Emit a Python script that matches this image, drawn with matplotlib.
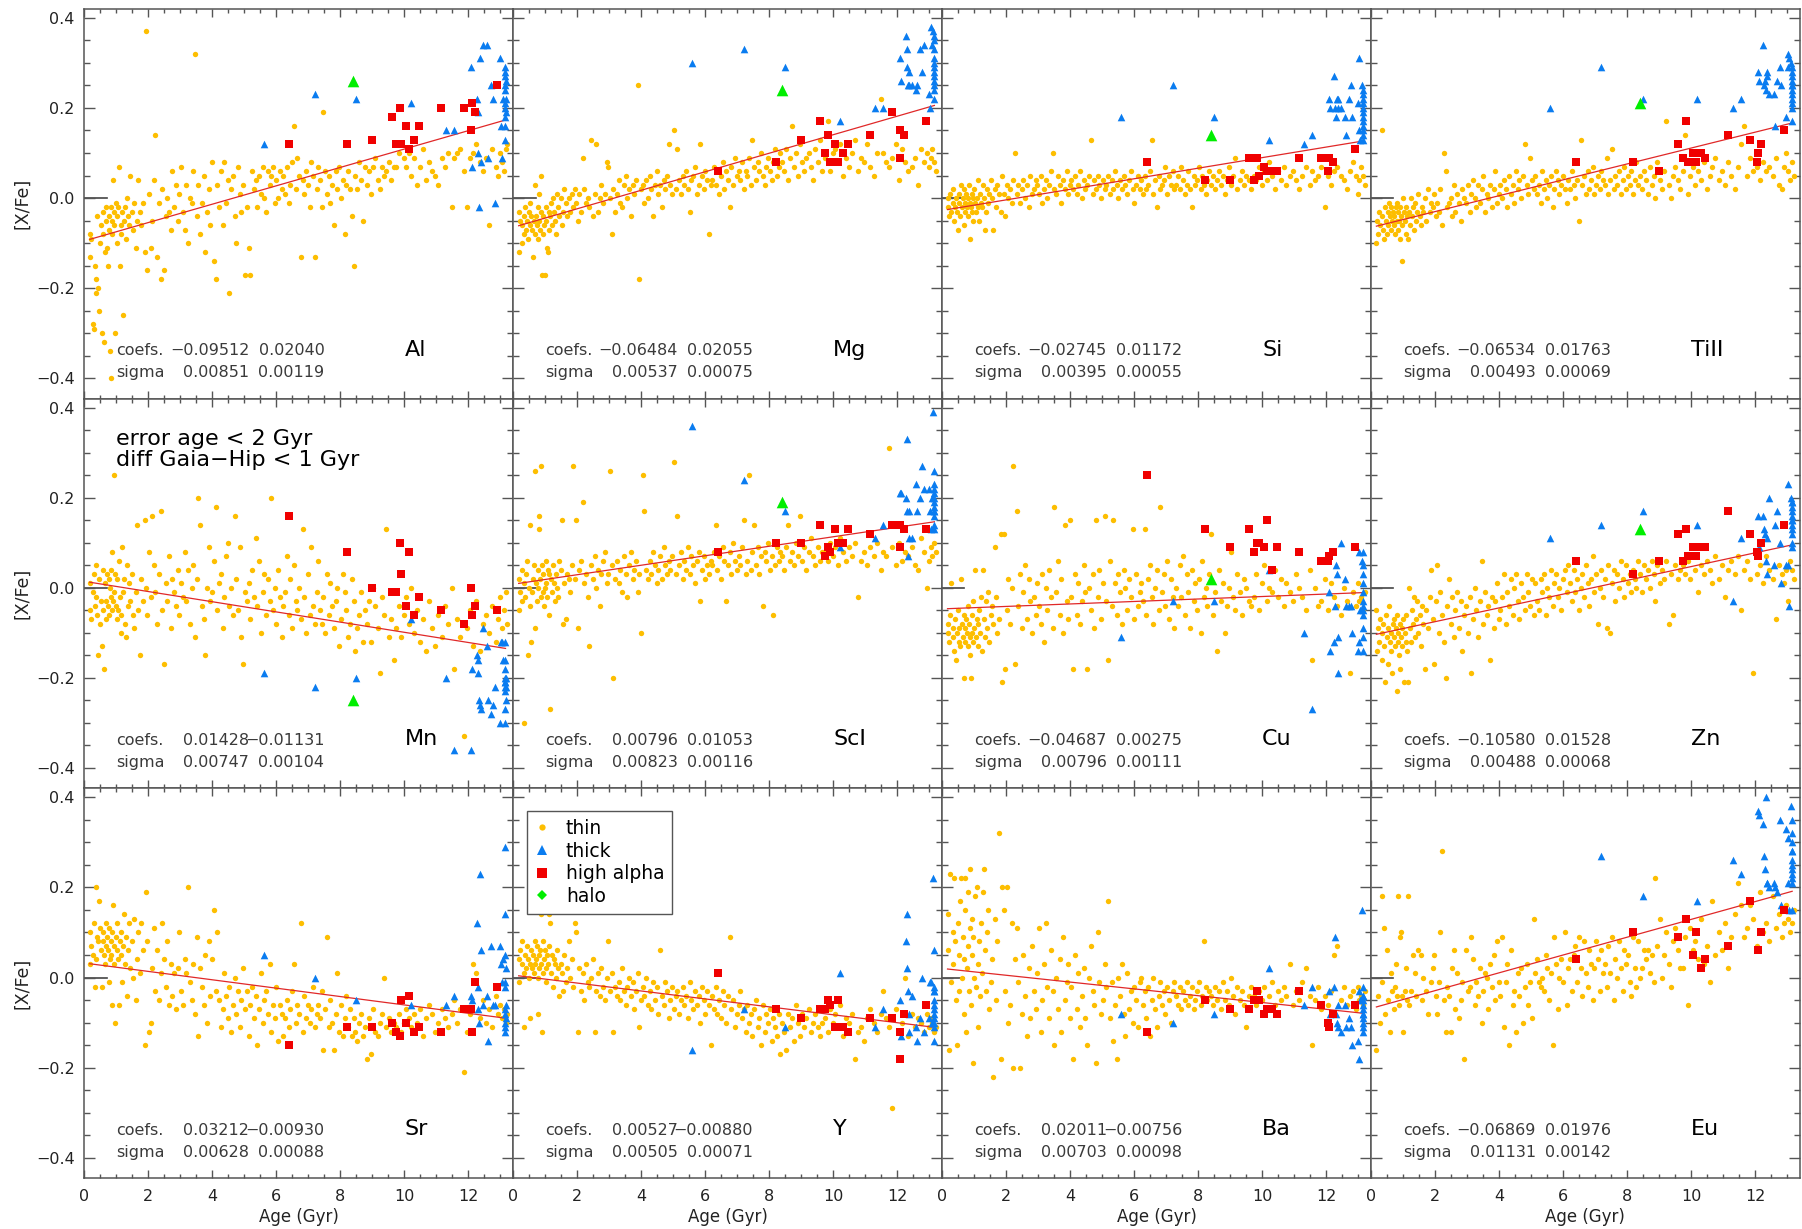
import numpy as np
import matplotlib
matplotlib.use('Agg')
import matplotlib.pyplot as plt
from matplotlib.lines import Line2D
from matplotlib.ticker import MultipleLocator, FuncFormatter

nan = np.nan

# stellar ages, in units of 0.01 Gyr
age_thin = [
    17, 19, 21, 26, 29, 33, 35, 38, 41, 44, 46, 49, 52, 54, 57, 59, 62, 64, 67, 69,
    71, 73, 76, 78, 80, 82, 84, 86, 88, 90, 92, 94, 96, 98, 101, 103, 106, 108, 111, 113,
    115, 118, 121, 124, 127, 131, 134, 137, 141, 144, 148, 152, 156, 160, 164, 169, 173, 178, 183, 188,
    193, 197, 202, 207, 212, 217, 222, 228, 233, 238, 243, 249, 254, 259, 264, 270, 275, 281, 286, 292,
    297, 302, 308, 313, 318, 324, 329, 335, 340, 346, 351, 356, 362, 367, 373, 378, 383, 389, 394, 399,
    404, 410, 415, 421, 426, 432, 437, 443, 448, 453, 459, 464, 470, 475, 481, 486, 491, 497, 502, 508,
    513, 519, 524, 530, 535, 540, 546, 551, 557, 562, 568, 573, 579, 584, 589, 595, 600, 606, 611, 617,
    622, 628, 633, 638, 644, 649, 655, 660, 666, 671, 677, 682, 687, 693, 698, 704, 709, 715, 720, 726,
    731, 737, 742, 747, 753, 758, 764, 769, 775, 780, 786, 791, 797, 802, 808, 813, 818, 824, 829, 835,
    841, 847, 853, 859, 865, 871, 877, 883, 889, 895, 902, 909, 916, 923, 930, 937, 944, 951, 958, 966,
    974, 982, 990, 998, 1006, 1014, 1022, 1031, 1040, 1049, 1058, 1067, 1076, 1086, 1096, 1106, 1116, 1126, 1137, 1148,
    1155, 1165, 1175, 1185, 1195, 1205, 1215, 1225, 1235, 1245, 1255, 1265, 1275, 1285, 1292, 1298, 1304, 1310, 1316, 1322]
age_thick = [560, 720, 850, 1020, 1130, 1155, 1208, 1212, 1226, 1229, 1231, 1233, 1236, 1238,
             1245, 1258, 1262, 1270, 1278, 1282, 1298, 1302, 1304, 1307,
             1313, 1315, 1315, 1316, 1314, 1315, 1316, 1315, 1314, 1316, 1315, 1315, 1314]
age_high = [640, 820, 900, 960, 975, 985, 990, 1005, 1015, 1030, 1045, 1115, 1185, 1207, 1210, 1220, 1290]
age_halo = [840]

elements = ['Al', 'Mg', 'Si', 'TiII', 'Mn', 'ScI', 'Cu', 'Zn', 'Sr', 'Y', 'Ba', 'Eu']
coef_a = [-0.09512, -0.06484, -0.02745, -0.06534, 0.01428, 0.00796,
          -0.04687, -0.10580, 0.03212, 0.00527, 0.02011, -0.06869]
coef_b = [0.02040, 0.02055, 0.01172, 0.01763, -0.01131, 0.01053,
          0.00275, 0.01528, -0.00930, -0.00880, -0.00756, 0.01976]
sigma_a = [0.00851, 0.00537, 0.00395, 0.00493, 0.00747, 0.00823,
           0.00796, 0.00488, 0.00628, 0.00505, 0.00703, 0.01131]
sigma_b = [0.00119, 0.00075, 0.00055, 0.00069, 0.00104, 0.00116,
           0.00111, 0.00068, 0.00088, 0.00071, 0.00098, 0.00142]

# [X/Fe] abundances, in units of 0.01 dex
thin_al = [
    -8, -13, -9, -28, -29, -15, -21, -18, -4, -20, -25, -10, -6, -30, -3, -8, -32, -12, -2, -5,
    -11, -15, -4, -7, -34, -40, -2, -5, -8, 4, -3, -6, -30, -1, -10, -4, -2, 7, -15, -6,
    -8, -3, -26, -5, -2, -9, 0, -4, -6, 5, -3, -7, -1, -11, -5, 4, -3, -6, -1, -12,
    37, -16, 1, -11, -5, 4, 14, -13, -1, -18, 2, -16, -4, 0, -3, -7, 6, -2, 3, -5,
    1, 7, -3, -7, 3, -10, 0, -1, 6, 32, -4, 3, -8, -1, 5, -12, -3, 2, -6, 8,
    -14, -18, 3, -2, 6, -6, 8, -1, 4, -21, 2, 5, -4, -10, 7, 1, -3, 3, -17, -2,
    -11, -17, 6, 2, 4, -2, 5, 1, 7, 0, -3, 6, 3, 5, 7, -1, 4, 0, 6, 2,
    5, 1, 7, -1, 3, 8, 16, 2, 9, 5, -13, 4, 1, 6, 3, -2, 8, 5, -13, 2,
    7, 4, -2, 19, 6, 1, 5, -1, 3, -6, 6, 2, 7, 0, 4, -8, 3, 6, 2, -4,
    -15, 5, 2, 8, 4, -5, 7, 3, 6, 1, 7, 9, 4, 2, 7, 5, 6, 8, 4, 7,
    7, 10, 12, 9, 7, 10, 5, 9, 3, 7, 11, 4, 8, 6, 5, 3, 9, 7, 10, -2,
    9, 10, 11, 6, -2, 9, 10, 12, 8, 6, 9, -6, 11, 7, 5, 10, 8, 6, 11, 12]
thin_mg = [
    -3, -12, -5, -10, -6, -8, -4, -2, -7, -5, -9, -3, -6, -1, -4, -7, -13, -5, 3, -8,
    -4, -6, -2, -9, -5, 1, -7, -3, 5, -17, -8, -4, -6, -17, -2, -5, -11, -12, -3, -7,
    -4, -1, -6, 0, -3, -5, -8, 1, -2, -4, 0, -6, -3, 2, -1, -4, 0, -3, 1, -2,
    2, -1, -5, 1, -3, 9, 2, -1, 0, -2, 13, -4, 1, 12, -3, 0, 3, -1, 1, 8,
    7, 0, -8, 2, -3, 1, 4, -1, -2, 3, 5, 0, 2, -4, 3, 1, 4, 25, -18, 2,
    3, -1, 4, 0, 5, 2, -4, 3, 6, 1, 3, -2, 4, 2, 5, 12, 3, 1, 15, 2,
    11, 4, 1, 5, 3, 6, 2, -3, 4, 5, 7, 1, 3, 12, 5, 2, 6, 4, -8, 3,
    4, 7, 3, 6, 1, 5, 8, 2, 6, 4, -2, 7, 3, 9, 5, 6, 4, 8, 2, 6,
    5, 9, 3, 13, 7, 4, 8, 6, 10, 5, 3, 7, 9, 6, 4, 8, 11, 5, 7, 10,
    8, 6, 11, 4, 9, 16, 7, 10, 5, 12, 8, 6, 9, 10, 7, 4, 11, 8, 13, 6,
    9, 17, 6, 10, 11, 8, 12, 5, 9, 7, 10, 13, 6, 9, 8, 12, 7, 5, 10, 22,
    10, 8, 7, 9, 12, 4, 11, 8, 6, 7, 9, 3, 11, 8, 10, 7, 9, 11, 8, 6]
thin_si = [
    0, -2, -4, 1, -3, -1, 2, -5, -2, 0, -3, -7, 1, -1, -4, 3, -2, 0, -6, 2,
    -1, -3, 1, -2, -4, 0, 3, -1, -9, -2, 1, -3, 0, -5, 2, -1, -3, 0, 4, -2,
    -5, 1, -1, -2, 3, 0, -7, -3, 2, -1, 1, 4, 0, -7, 2, -2, 3, 1, -3, 5,
    1, -4, 3, 0, 2, -1, 4, 10, 1, 3, -1, 2, 4, 0, 3, -2, 5, 1, 2, 4,
    3, 1, 5, -1, 2, 4, 0, 3, 6, 10, 2, 1, 5, 3, -1, 4, 2, 6, 1, 3,
    4, 2, 5, 1, 3, 6, 0, 4, 2, 3, 5, 13, 1, 4, 2, 5, 3, 0, 4, 2,
    3, 5, 1, 4, 2, 6, 3, 0, 4, 2, 5, 3, 1, 4, 6, 2, -1, 3, 5, 2,
    4, 1, 5, 2, 3, 6, 13, 1, 4, -2, 5, 2, 3, 4, 7, 1, 5, 3, 6, 2,
    3, 5, 2, 7, 4, 1, 3, 6, 2, -2, 5, 3, 4, 7, 2, 5, 3, 1, 4, 6,
    3, 5, 2, 4, 6, 3, 5, 1, 4, 7, 3, 5, 9, 2, 4, 6, 3, 5, 4, 2,
    5, 4, 7, 3, 6, 4, 8, 5, 2, 6, 4, 7, 3, 5, 6, 4, 2, 5, 7, 3,
    6, 4, 5, 7, -2, 5, 3, 6, 7, 5, 4, 2, 6, 8, 5, 1, 4, 7, 5, 3]
thin_ti = [
    -10, -5, -8, -3, -6, 15, -4, -7, -9, -2, -5, -8, -3, -6, -1, -4, -7, -2, -5, -3,
    -6, -4, -8, -2, -5, -1, -7, -3, -5, -9, -2, -4, -6, -14, 0, -3, -5, -8, -2, -4,
    -9, -3, -6, 0, -4, -2, -7, -1, -5, -3, 1, -4, -6, -2, -3, 0, -5, 2, -3, -1,
    -2, 1, -4, -1, -3, 2, -6, 10, 6, -2, -1, 0, -4, 3, -3, 1, -1, -5, 2, 0,
    -1, 3, -3, 1, 4, 0, -2, 3, -1, 2, 5, -3, 1, 0, 3, -2, 2, 6, -1, 1,
    3, 0, 4, 2, -2, 5, 1, 3, -1, 6, 2, 4, 0, 5, 12, 3, 1, 9, 4, 2,
    5, 1, 3, -1, 6, 2, 4, 0, 3, 5, -2, 2, 6, 4, 1, 3, 5, 2, -1, 4,
    2, 6, 3, 0, 4, -5, 13, 3, 5, 1, 6, 2, 4, 7, 1, 3, 5, 2, 6, 4,
    3, 9, 1, 4, 11, 2, 5, 3, 6, 1, 4, 7, 2, 5, 3, 6, 1, 4, 8, 3,
    5, 2, 6, 4, 1, 7, 3, 5, 0, 8, 4, 2, 6, 17, 3, 0, 5, 7, 4, 2,
    6, 14, 1, 5, 7, 3, 6, 4, 8, 2, 5, 7, 9, 4, 6, 3, 8, 5, 2, 7,
    12, 16, 5, 9, 6, 7, 4, 8, 6, 7, 5, 9, 3, 2, 7, 10, 6, 4, 8, 5]
thin_mn = [
    1, -5, -7, -1, 3, -4, 5, -2, -6, -15, 2, -8, -3, -13, 4, -5, -18, 1, -3, -7,
    3, -4, 2, -6, 0, -2, 4, -5, 8, -3, 25, -1, 3, -4, -7, 2, -5, 6, -2, -10,
    -6, 9, -1, 2, -8, -11, 5, -4, 1, -3, 3, -6, -9, -1, 14, -5, -15, 2, -3, 15,
    0, -6, 8, -2, 16, 5, -1, -8, 3, 17, -5, -17, 1, -3, 7, -9, 2, -1, -4, 4,
    -6, 1, -2, 8, -3, 4, -8, 0, 5, -11, 2, 20, 14, -4, -7, -15, 0, 9, -3, -1,
    6, 18, -5, 1, 3, -9, -2, 7, 10, -4, 0, -6, 16, 2, -5, 9, -11, -17, -1, -3,
    1, -7, 4, -2, 11, -4, 6, -10, -1, 3, -6, 2, -3, 20, -5, 0, -8, 4, -2, -11,
    -4, -1, 7, -6, 2, -9, 5, -3, -5, 0, -7, 13, -2, -10, 3, -6, 9, -4, -8, -1,
    6, -5, -8, -2, -10, 3, -6, 1, -4, -9, -3, 0, -13, -7, 3, -1, -5, -11, -8, 2,
    -3, -14, -9, -6, -1, -12, -5, -8, -3, -12, 0, -4, -9, -19, -2, -6, 13, -11, -7, -16,
    -9, -4, -11, -6, -2, -8, 0, -10, -5, -12, -7, -14, -3, -9, -13, -6, -11, -4, -8, 0,
    -18, -7, -11, -33, -9, -5, -13, -3, -14, -8, -6, -10, -4, -12, -7, -2, -9, -5, -1, -8]
thin_sc = [
    2, -5, -1, 4, -3, 1, -30, -2, 3, 6, -15, 0, -4, 14, -12, -1, 2, 5, -9, 26,
    1, -3, 4, 0, 16, 13, 2, -2, 27, 5, -1, 3, -4, 0, 1, 6, -2, 4, -6, 3,
    -27, 2, -1, 5, 1, -3, 3, 0, -2, 6, 4, 15, -8, 1, -7, 3, 2, -1, 5, 27,
    2, 15, -9, 4, 6, 19, 1, 3, -2, -13, 5, 2, 7, 0, 4, -4, 3, 6, 8, 1,
    3, 26, 5, -20, 2, 6, 1, 4, -1, 7, 3, -2, 5, 8, 2, 4, 6, -1, 3, -10,
    25, 17, 4, 2, 6, 3, 8, 5, 1, 4, 7, 2, 9, 5, 3, 6, 4, 7, 28, 3,
    16, 5, 8, 2, 6, 4, 9, 3, 7, 5, 1, 6, 8, -3, 4, 7, 2, 5, 3, 6,
    5, 8, 14, 4, 7, 2, 9, 6, -3, 5, 8, 3, 10, 6, 4, 7, 5, 9, 15, 3,
    6, 25, 4, 8, 14, 5, 9, 3, 7, -4, 8, 6, 10, 4, 7, -6, 5, 9, 6, 8,
    7, 4, 9, 14, 6, 8, 5, 10, 7, 16, 6, 9, 4, 8, 11, 7, 5, 9, 6, 8,
    8, 6, 10, 7, 9, 5, 11, 8, 6, 9, 7, 10, -2, 6, 8, 5, 9, 7, 10, 4,
    8, 7, 31, 9, 5, 10, 6, 8, 7, 9, 5, 4, 11, 8, 0, 6, 9, 7, 10, 8]
thin_cu = [
    -8, -10, -12, -6, 1, -9, -11, -14, -7, -16, -10, -5, -12, -9, -13, 2, -8, -11, -6, -20,
    -9, -12, -7, -10, -4, -13, -8, -11, -15, -20, -6, -10, -12, -3, -9, 4, -11, -7, -13, -8,
    -5, -10, -2, -14, 4, -7, -11, -3, -9, -1, -12, -6, -4, -8, 9, -2, -10, -7, 12, -21,
    12, -18, -5, 2, -8, 0, 27, -17, 17, -4, 3, -9, -1, 5, -7, 2, -3, -10, -2, -6,
    1, -4, -8, 3, -12, 0, -5, 4, -2, -9, 18, -1, 6, -6, 2, -10, 14, -3, -7, 15,
    -2, -18, 3, -6, 1, -8, -3, 5, -1, -18, 0, -5, 3, -9, 15, -2, 4, -7, 1, 16,
    -3, -16, 6, -4, 15, 1, -6, 3, -1, -8, 4, 0, -5, 2, -2, 13, -7, 3, -4, -1,
    1, -3, 13, -6, 2, 5, -2, -8, 0, 4, -5, 18, -1, 3, -4, 6, -7, 2, -2, -9,
    0, -4, 5, -2, 7, -6, 3, -1, -9, 4, -3, 1, -5, 2, -10, 6, -2, 0, -4, 3,
    12, -6, -1, -14, 4, -3, 1, -10, -4, 0, 8, -2, -5, 3, -1, -6, 2, 0, -3, -4,
    -2, 3, -5, 1, 5, -3, 0, -1, 4, -2, 2, -4, 1, -1, -3, 3, 0, -2, -5, 4,
    -16, 0, -4, -3, 2, -5, 1, -2, -4, -6, 0, -3, -19, -1, -4, 1, -3, -2, -5, -1]
thin_zn = [
    -5, -14, -9, -12, -7, -16, -10, -8, -13, -21, -6, -11, -9, -17, -4, -12, -10, -14, -19, -8,
    -11, -7, -13, -9, -23, -6, -12, -10, -15, -8, -18, -11, -9, -13, -7, -21, -10, -12, -6, -14,
    -21, 0, -9, -12, -5, -8, -2, -11, -7, -3, -10, -6, -13, -4, -8, -18, -5, -9, -2, 4,
    -7, -17, -3, 5, -10, -1, -6, -12, -20, -4, 2, -8, -2, -11, -5, -1, -9, -3, -14, -6,
    -4, -10, -2, -19, -7, 0, -5, -11, -3, 6, -8, -1, -6, -4, -16, -2, -9, -3, 1, -7,
    -5, -2, 3, -8, -1, -4, 2, -6, 0, 3, -3, -7, 1, -2, -5, 3, -1, -4, 2, -6,
    1, -3, -5, 2, -1, 3, -6, 0, -2, 4, -4, 1, 3, -2, 0, -5, 2, 4, -1, 5,
    1, -3, 4, -1, 2, -5, 0, 3, -2, 5, 1, -4, 2, 7, -1, 3, -8, 0, 4, -2,
    2, -9, 5, -10, 1, 4, -3, 3, 0, 6, 2, -2, 5, 1, 3, -1, 4, 2, 0, 6,
    3, -1, 5, 2, 4, 0, 6, 3, -3, 5, 1, 4, 2, 6, -8, 3, -6, 5, 2, 4,
    5, 3, 6, 2, 7, 4, -1, 5, 3, 6, 4, 1, 7, 2, 5, -2, 4, 6, 3, 7,
    -5, 4, 6, 2, -19, 3, 5, 1, 7, 4, 2, -7, 5, 3, 1, 4, -3, 6, 4, 2]
thin_sr = [
    3, 10, 7, 5, 12, -2, 20, 4, 9, 8, 17, 11, 6, -2, 8, 10, 5, 3, 12, 7,
    9, 6, -1, 11, 4, 8, 5, 10, -6, 16, 7, 3, -10, 9, 6, 12, 4, -6, 8, 10,
    5, -1, 7, 14, 3, 9, -4, 6, 12, 2, 8, 0, 13, -5, 4, 10, 1, 12, 6, -15,
    19, 8, -12, -10, 2, 11, -3, 6, -5, 1, 12, 4, -2, 8, -6, 3, -4, 1, -7, 2,
    10, -3, -6, 4, 1, 20, -1, -5, 3, -8, 9, -13, 2, -2, -6, 5, -10, 8, -4, 4,
    15, -3, 10, -5, -11, -7, 1, -4, -9, -2, -12, -6, 0, -8, -3, -11, -5, 2, -7, -3,
    -13, -6, -2, -9, -4, -15, -7, 1, -10, -5, -3, -8, 3, -12, -6, -9, -2, -14, -6, -8,
    -13, -9, -5, -11, -7, -3, 3, -10, -6, -8, 12, -12, -4, -9, -6, -10, -7, -2, -11, -8,
    -6, -9, -3, -16, -7, 9, -11, -5, -10, -16, -8, 1, -12, -6, -13, -9, -4, -11, -7, -13,
    -9, -12, -14, -10, -8, -13, -11, -18, -9, -17, -7, -12, -13, -10, -8, 0, -11, -9, -12, -10,
    -11, -8, -12, -10, -7, -9, -11, -8, -10, -7, -13, -9, -6, -8, -12, -10, -7, -9, -11, -8,
    -5, -10, -7, -21, -12, -8, 3, 1, -9, -5, -10, -7, -11, -4, -8, -6, -9, -7, -10, -8]
thin_y = [
    4, -1, 6, 3, 8, 1, -11, 5, 2, 7, 4, 0, 3, -9, 6, 2, 5, 1, 8, 3,
    4, 7, 0, -8, 5, 2, 6, 14, 3, -12, 8, 1, 4, 6, 2, -1, 5, 3, 14, 7,
    12, 1, 5, -2, 4, 3, 0, 6, 2, -4, 3, 1, -3, 5, -1, 2, 8, 0, 4, -2,
    12, 10, -12, 2, -3, 1, -5, 3, -1, -2, 0, 4, -12, -3, 1, -4, 2, -2, -5, 0,
    8, -3, 1, -12, -2, -4, -1, -5, 2, -3, -6, -2, 0, -4, -1, -7, -3, 1, -11, -5,
    -2, -4, 0, -6, -3, -7, -1, -5, -2, -8, 6, -4, -6, -1, -3, -9, -5, -2, -7, -4,
    -3, -8, -5, -2, -6, -4, -9, -1, -5, -7, -3, -6, -4, -10, -2, -5, -8, -3, -6, -15,
    -4, -7, -2, -8, -5, -9, -3, -6, -10, -4, 9, -7, -5, -11, -8, -6, -3, -9, -7, -12,
    -6, -10, -8, -13, -7, -5, -11, -9, -15, -6, -12, -8, -10, -7, -14, -9, -11, -13, -8, -17,
    -10, -12, -16, -8, -11, -9, -14, -6, -10, -13, -8, -11, -9, -7, -12, -10, -8, -11, -13, -10,
    -9, -12, -7, -10, -8, -11, -6, -13, -9, -10, -8, -18, -12, -11, -14, -9, -7, -10, -12, -8,
    -3, -9, -11, -29, -7, -12, -10, 0, -13, -8, -11, -9, -10, -12, -8, -11, -9, -10, -12, -11]
thin_ba = [
    6, 14, -16, 23, -1, 10, 3, 22, 8, -5, -15, 12, 5, -3, 17, 22, 0, 9, -8, 4,
    15, 22, -12, 2, 19, 7, -3, 11, 24, -6, 13, 5, -19, 9, 0, 18, -2, 20, 3, -11,
    8, -4, 12, 1, 19, 24, 6, -3, 10, 15, -7, -1, 4, -22, 13, -5, 8, 32, -18, 20,
    15, -3, 20, -10, -6, 12, -20, 4, 11, -1, -20, -8, 5, -4, -13, 2, -9, 7, -3, -7,
    1, 11, -12, -5, 3, 12, -2, -9, 6, -3, -15, 0, -7, 4, -12, 9, -5, -1, 3, -9,
    -2, -18, 5, -7, 1, -11, -4, 2, -9, -15, 0, 7, -3, -6, -19, 10, -1, -8, -5, 3,
    -2, 17, -9, -1, -14, -6, -18, 0, -4, 3, -8, -13, 1, -7, -3, -10, -2, -5, -11, -1,
    0, -6, -3, -9, -2, -13, -5, 0, -7, -11, -4, -1, -6, -3, -8, -2, -5, -10, -3, -1,
    -4, -6, -2, -7, -3, -5, -1, -6, -4, -2, -7, -5, -3, -1, -6, -4, 8, -2, -5, -3,
    -4, -6, -2, -5, -3, -7, -1, -5, -3, -6, 0, -4, -8, -2, -5, -3, -6, -11, -4, -2,
    -4, -6, -3, -5, -2, -7, -4, -1, -6, -3, -5, -2, -4, 3, -6, -3, -5, -1, 2, -4,
    -15, -5, -2, -7, -4, -6, -3, 5, 7, -5, -2, -6, -4, -3, -7, -2, -5, -4, -6, -3]
thin_eu = [
    -16, nan, -4, nan, -10, -1, 18, nan, 11, -8, nan, 6, nan, -5, nan, -12, 1, nan, -3, nan,
    -7, nan, -2, 3, nan, -4, nan, 18, -6, 9, nan, 10, -4, nan, -12, nan, -3, 2, nan, -5,
    18, -6, nan, -3, nan, 5, nan, 1, -4, nan, 6, nan, 5, -5, 0, nan, -3, -8, nan, -1,
    2, 5, -4, -8, -1, 10, 28, -5, -12, -2, -4, -12, 2, 6, -7, 1, -9, -5, -1, -18,
    6, -3, -2, 9, 4, -6, -1, -4, 2, -10, -3, 1, 0, -7, 3, -2, 5, -5, 8, -1,
    -4, 9, -11, -1, 3, -15, 6, -6, -3, -12, 1, -4, 2, -10, -2, 3, -6, -1, -9, 13,
    1, 4, -1, -2, 0, -3, 5, 2, -5, 1, -15, 9, 3, -7, 0, 4, -1, 10, -6, 2,
    4, -3, 5, 7, -1, 9, 2, -4, 8, 1, -2, 6, 3, -5, 2, 8, 4, -3, 6, 1,
    3, -2, 7, 1, 9, -5, 4, 0, 8, 2, -3, 6, 3, 5, -1, -4, 9, 2, -2, 8,
    0, 2, 6, 4, 6, 1, 5, -1, 22, 7, 13, 0, 5, 10, 3, -2, 8, 11, 6, 2,
    2, 9, -6, 11, 6, 8, 4, 13, 3, 7, -1, 17, 5, 10, 6, 12, 2, 9, 14, 21,
    16, 9, 11, 16, 13, 7, 19, 10, 12, 8, 18, 11, 14, 9, 12, 16, 13, 10, 12, 15]

thick_al = [12, 23, 22, 21, 15, 15, 29, 7, 22, 19, 10, -2, 31, 8, 34, 34, 9, 25, 22, -1, 31, 16, 9, 22,
            29, 28, 27, 26, 25, 24, 22, 21, 20, 19, 18, 16, 13]
thick_mg = [30, 33, 29, 17, 20, 20, 31, 26, 36, 33, 29, 25, 28, 25, 25, 24, 25, 33, 28, 34, 23, 20, 38, 34,
            37, 36, 35, 33, 31, 30, 29, 28, 27, 26, 25, 24, 22]
thick_si = [18, 25, 18, 13, 12, 14, 22, 20, 27, 20, 18, 22, 22, 20, 20, 18, 14, 22, 25, 18, 21, 15, 31, 13,
            25, 24, 23, 22, 21, 20, 19, 18, 17, 16, 15, 14, 13]
thick_ti = [20, 29, 22, 22, 20, 22, 28, 26, 34, 25, 26, 24, 27, 28, 23, 23, 16, 26, 29, 25, 18, 29, 32, 31,
            30, 29, 28, 27, 26, 25, 25, 24, 23, 22, 21, 20, 17]
thick_mn = [-19, -22, -20, -7, -20, -36, -36, -18, -15, -16, -19, -25, -26, -27, -9, -13, -25, -28, -26, -22,
            -30, -12, -12, -16, -16, -18, -20, -20, -21, -21, -22, -22, -23, -25, -27, -30, -12]
thick_sc = [36, 24, 17, 9, 11, 14, 21, 21, 20, 33, 17, 7, 17, 11, 11, 23, 17, 20, 27, 22, 22, 17, 13, 20,
            39, 26, 23, 22, 21, 20, 19, 18, 17, 17, 16, 14, 13]
thick_cu = [-11, -3, -3, 4, -10, -27, -1, -14, -12, -4, 5, 3, -19, -11, 10, 2, -4, -4, -4, -10, -14, -12, 8, -5,
            6, 5, 3, 1, -1, -3, -4, -5, -6, -9, -11, -14, 8]
thick_zn = [11, 14, 17, 14, -3, 11, 16, 9, 16, 13, 12, 6, 3, 11, 20, 5, 14, 17, 10, 1, 5, 5, 23, -4,
            20, 19, 19, 18, 17, 16, 15, 14, 13, 12, 10, 9, 15]
thick_sr = [5, 0, -5, -6, -6, -4, -4, -5, 12, -2, -7, -10, 23, 6, -6, -4, -14, 7, -6, -6, 7, 3, -1, 4,
            29, 14, 5, 2, -1, -2, -6, -7, -8, -9, -10, -11, -12]
thick_y = [-16, -7, -11, 1, -11, -7, -5, -13, 8, 14, 2, -3, -8, -12, -4, -11, -14, -9, 0, -12, -9, -1, -1, -10,
           22, 6, -2, -3, -5, -6, -7, -8, -9, -10, -11, -14, -3]
thick_ba = [-8, -10, -8, 2, -6, -2, -3, -8, -2, 9, -8, -10, -11, -6, -12, -6, -11, -9, -11, -15, -14, -18, -3, -5,
            15, -2, -4, -5, -7, -8, -9, -10, -11, -12, -8, -6, -4]
thick_eu = [nan, 27, 18, 17, 26, 23, 37, 36, 34, 27, 24, 40, 21, 21, 20, 21, 20, 19, 35, 16, 33, 31, 21, 15,
            38, 35, 32, 30, 28, 26, 25, 24, 23, 22, 21, 15, 28]

high_al = [12, 12, 13, 18, 12, 20, 12, 16, 11, 13, 16, 20, 20, 15, 21, 19, 25]
high_mg = [6, 8, 13, 17, 10, 14, 8, 12, 8, 10, 12, 14, 19, 9, 15, 14, 17]
high_si = [8, 4, 4, 9, 4, 9, 5, 7, 6, 6, 6, 9, 9, 6, 9, 8, 11]
high_ti = [8, 8, 6, 12, 9, 17, 8, 10, 8, 10, 9, 14, 13, 8, 10, 12, 15]
high_mn = [16, 8, 0, -1, -1, 10, 3, -4, 8, -6, -2, -5, -8, 0, -6, -4, -5]
high_sc = [8, 10, 10, 14, 7, 9, 8, 13, 10, 10, 13, 12, 14, 9, 14, 13, 13]
high_cu = [25, 13, 9, 13, 8, 10, 10, 9, 15, 4, 9, 8, 6, 6, 7, 8, 9]
high_zn = [6, 3, 6, 12, 6, 13, 7, 9, 7, 9, 9, 17, 12, 8, 7, 10, 14]
high_sr = [-15, -11, -11, -10, -12, -13, -5, -10, -4, -12, -11, -12, -7, -7, -12, -1, -2]
high_y = [1, -7, -9, -7, -7, -5, -6, -11, -5, -11, -12, -9, -9, -12, -18, -8, -6]
high_ba = [-12, -5, -7, -7, -5, -3, -5, -8, -7, -7, -8, -3, -6, -10, -11, -8, -6]
high_eu = [4, 10, nan, 9, nan, 13, nan, 5, 10, 2, 4, 7, 17, nan, 6, 10, 15]

halo_vals = [26, 24, 14, 21, -25, 19, 2, 13, nan, nan, nan, nan]

thin_all = [thin_al, thin_mg, thin_si, thin_ti, thin_mn, thin_sc,
            thin_cu, thin_zn, thin_sr, thin_y, thin_ba, thin_eu]
thick_all = [thick_al, thick_mg, thick_si, thick_ti, thick_mn, thick_sc,
             thick_cu, thick_zn, thick_sr, thick_y, thick_ba, thick_eu]
high_all = [high_al, high_mg, high_si, high_ti, high_mn, high_sc,
            high_cu, high_zn, high_sr, high_y, high_ba, high_eu]

c_thin = '#FDBE00'
c_thick = '#0A7CF0'
c_high = '#F00000'
c_halo = '#00EE00'
c_axis = '#555555'
c_text = '#3a3a3a'

plt.rcParams['font.family'] = ['DejaVu Sans']
plt.rcParams['axes.unicode_minus'] = True

fig = plt.figure(figsize=(18.02, 12.29), dpi=100)

x_thin = np.array(age_thin) / 100.0
x_thick = np.array(age_thick) / 100.0
x_high = np.array(age_high) / 100.0
x_halo = np.array(age_halo) / 100.0
x_fit = np.array([x_thin.min(), x_thick.max()])

left, bottom = 0.0468, 0.0415
w, h = 0.2380, 0.3171


def fmt_num(v):
    return f'{v:.5f}'.replace('-', '\u2212')


def fmt_tick(v, _):
    v = round(v, 2)
    if v == 0:
        v = 0.0
    return f'{v:.1f}'.replace('-', '\u2212')


for i, name in enumerate(elements):
    row, col = divmod(i, 4)
    ax = fig.add_axes([left + col * w, bottom + (2 - row) * h, w, h])

    ax.scatter(x_thin, np.array(thin_all[i], dtype=float) / 100, s=15,
               marker='o', color=c_thin, linewidths=0, zorder=2)
    ax.plot(x_fit, coef_a[i] + coef_b[i] * x_fit, color='#E02828', lw=0.9, zorder=3)
    ax.scatter(x_thick, np.array(thick_all[i], dtype=float) / 100, s=30,
               marker='^', color=c_thick, linewidths=0, zorder=4)
    ax.scatter(x_high, np.array(high_all[i], dtype=float) / 100, s=34,
               marker='s', color=c_high, linewidths=0, zorder=5)
    ax.scatter(x_halo, [halo_vals[i] / 100], s=70,
               marker='^', color=c_halo, linewidths=0, zorder=6)
    ax.axhline(0, xmin=0, xmax=0.052, color='#444444', lw=1.2, zorder=1)

    ax.set_xlim(0, 13.4)
    ax.set_ylim(-0.445, 0.42)
    ax.xaxis.set_major_locator(MultipleLocator(2))
    ax.xaxis.set_minor_locator(MultipleLocator(0.5))
    ax.yaxis.set_major_locator(MultipleLocator(0.2))
    ax.yaxis.set_minor_locator(MultipleLocator(0.05))
    ax.yaxis.set_major_formatter(FuncFormatter(fmt_tick))
    ax.tick_params(axis='both', which='both', direction='in', top=True, right=True,
                   color=c_axis, width=1.0, labelsize=11.5, labelcolor='#222222')
    ax.tick_params(axis='x', which='major', length=6, pad=8)
    ax.tick_params(axis='x', which='minor', length=3)
    ax.tick_params(axis='y', which='major', length=8, pad=7)
    ax.tick_params(axis='y', which='minor', length=4)
    ax.tick_params(labelleft=(col == 0), labelbottom=(row == 2))
    for sp in ax.spines.values():
        sp.set_color(c_axis)
        sp.set_linewidth(1.1)

    if col == 0:
        ax.text(-0.145, 0.5, '[X/Fe]', transform=ax.transAxes, rotation=90,
                ha='center', va='center', fontsize=12.5, color='#222222')
    if row == 2:
        ax.text(0.5, -0.1, 'Age (Gyr)', transform=ax.transAxes,
                ha='center', va='center', fontsize=12, color='#222222')

    # fit coefficients and their errors
    ax.text(1.0, -0.339, 'coefs.', fontsize=11.5, color=c_text, va='center')
    ax.text(5.15, -0.339, fmt_num(coef_a[i]), fontsize=11.5, color=c_text, va='center', ha='right')
    ax.text(7.5, -0.339, fmt_num(coef_b[i]), fontsize=11.5, color=c_text, va='center', ha='right')
    ax.text(1.0, -0.388, 'sigma', fontsize=11.5, color=c_text, va='center')
    ax.text(5.15, -0.388, fmt_num(sigma_a[i]), fontsize=11.5, color=c_text, va='center', ha='right')
    ax.text(7.5, -0.388, fmt_num(sigma_b[i]), fontsize=11.5, color=c_text, va='center', ha='right')
    ax.text(10.0, -0.35, name, fontsize=16, color='black', va='baseline', ha='left')

    if name == 'Mn':
        ax.text(1.0, 0.331, 'error age < 2 Gyr', fontsize=16, va='center')
        ax.text(1.0, 0.284, 'diff Gaia\u2212Hip < 1 Gyr', fontsize=16, va='center')

    if name == 'Y':
        handles = [
            Line2D([], [], ls='', marker='o', ms=4.5, color=c_thin, mew=0),
            Line2D([], [], ls='', marker='^', ms=6.5, color=c_thick, mew=0),
            Line2D([], [], ls='', marker='s', ms=6.5, color=c_high, mew=0),
            Line2D([], [], ls='', marker='D', ms=5.5, color=c_halo, mew=0),
        ]
        leg = ax.legend(handles, ['thin', 'thick', 'high alpha', 'halo'],
                        loc='upper left', bbox_to_anchor=(0.031, 0.941),
                        borderaxespad=0, fontsize=13.5, frameon=True, fancybox=False,
                        edgecolor=c_axis, framealpha=1, handlelength=0.8,
                        handletextpad=0.9, labelspacing=0.2, borderpad=0.4)
        leg.get_frame().set_linewidth(1.0)
        leg.set_zorder(10)

fig.savefig('out.png', dpi=100, facecolor='white')
